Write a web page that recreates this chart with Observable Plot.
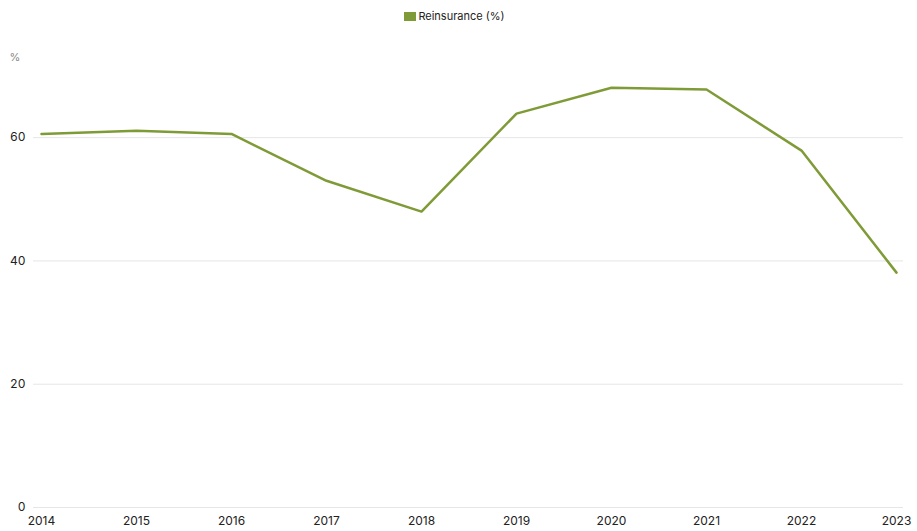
<!DOCTYPE html>
<html>
<head>
<meta charset="utf-8">
<script src="https://cdn.jsdelivr.net/npm/d3@7"></script>
<script src="https://cdn.jsdelivr.net/npm/@observablehq/plot@0.6"></script>
<style>
  html, body { margin: 0; padding: 0; background: #fff; }
  body { width: 917px; height: 531px; overflow: hidden; font-family: Inter, "Noto Sans", sans-serif; }
  #legend { height: 30px; display: flex; justify-content: center; align-items: center; font-size: 11px; color: #222; padding-top: 2px; padding-right: 8px; box-sizing: border-box; }
  #legend .sw { width: 12px; height: 9px; background: #7f9b37; display: inline-block; margin-right: 2px; }
</style>
</head>
<body>
<div id="legend"><span class="sw"></span><span>Reinsurance (%)</span></div>
<div id="chart"></div>
<script>
const years = [2014, 2015, 2016, 2017, 2018, 2019, 2020, 2021, 2022, 2023];
const reinsurance = [60.6, 61.1, 60.6, 53.0, 48.0, 63.9, 68.1, 67.8, 57.9, 38.1];
const yTicks = [0, 20, 40, 60];
const lineColor = "#7f9b37";

const data = years.map((y, i) => ({year: y, value: reinsurance[i]}));

const chart = Plot.plot({
  width: 917,
  height: 501,
  marginLeft: 33,
  marginRight: 14,
  marginTop: 27,
  marginBottom: 24,
  style: {fontFamily: "Inter, 'Noto Sans', sans-serif", fontSize: "12px", color: "#222", background: "#fff"},
  x: {type: "point", domain: years, padding: 0, inset: 4, tickSize: 0, label: null, tickFormat: d => String(d)},
  y: {domain: [0, 73], ticks: yTicks, tickSize: 0, label: null},
  marks: [
    Plot.gridY(yTicks, {stroke: "#e6e6e6", strokeOpacity: 1, strokeWidth: 1}),
    Plot.axisY({ticks: yTicks, tickSize: 0, tickPadding: 8, label: null}),
    Plot.axisX({tickSize: 0, tickPadding: 9, label: null, tickFormat: d => String(d)}),
    Plot.text(["%"], {frameAnchor: "top-left", dx: -24, dy: -4, fill: "#888", fontSize: 11}),
    Plot.line(data, {x: "year", y: "value", stroke: lineColor, strokeWidth: 2.5})
  ]
});
document.getElementById("chart").append(chart);
</script>
</body>
</html>
